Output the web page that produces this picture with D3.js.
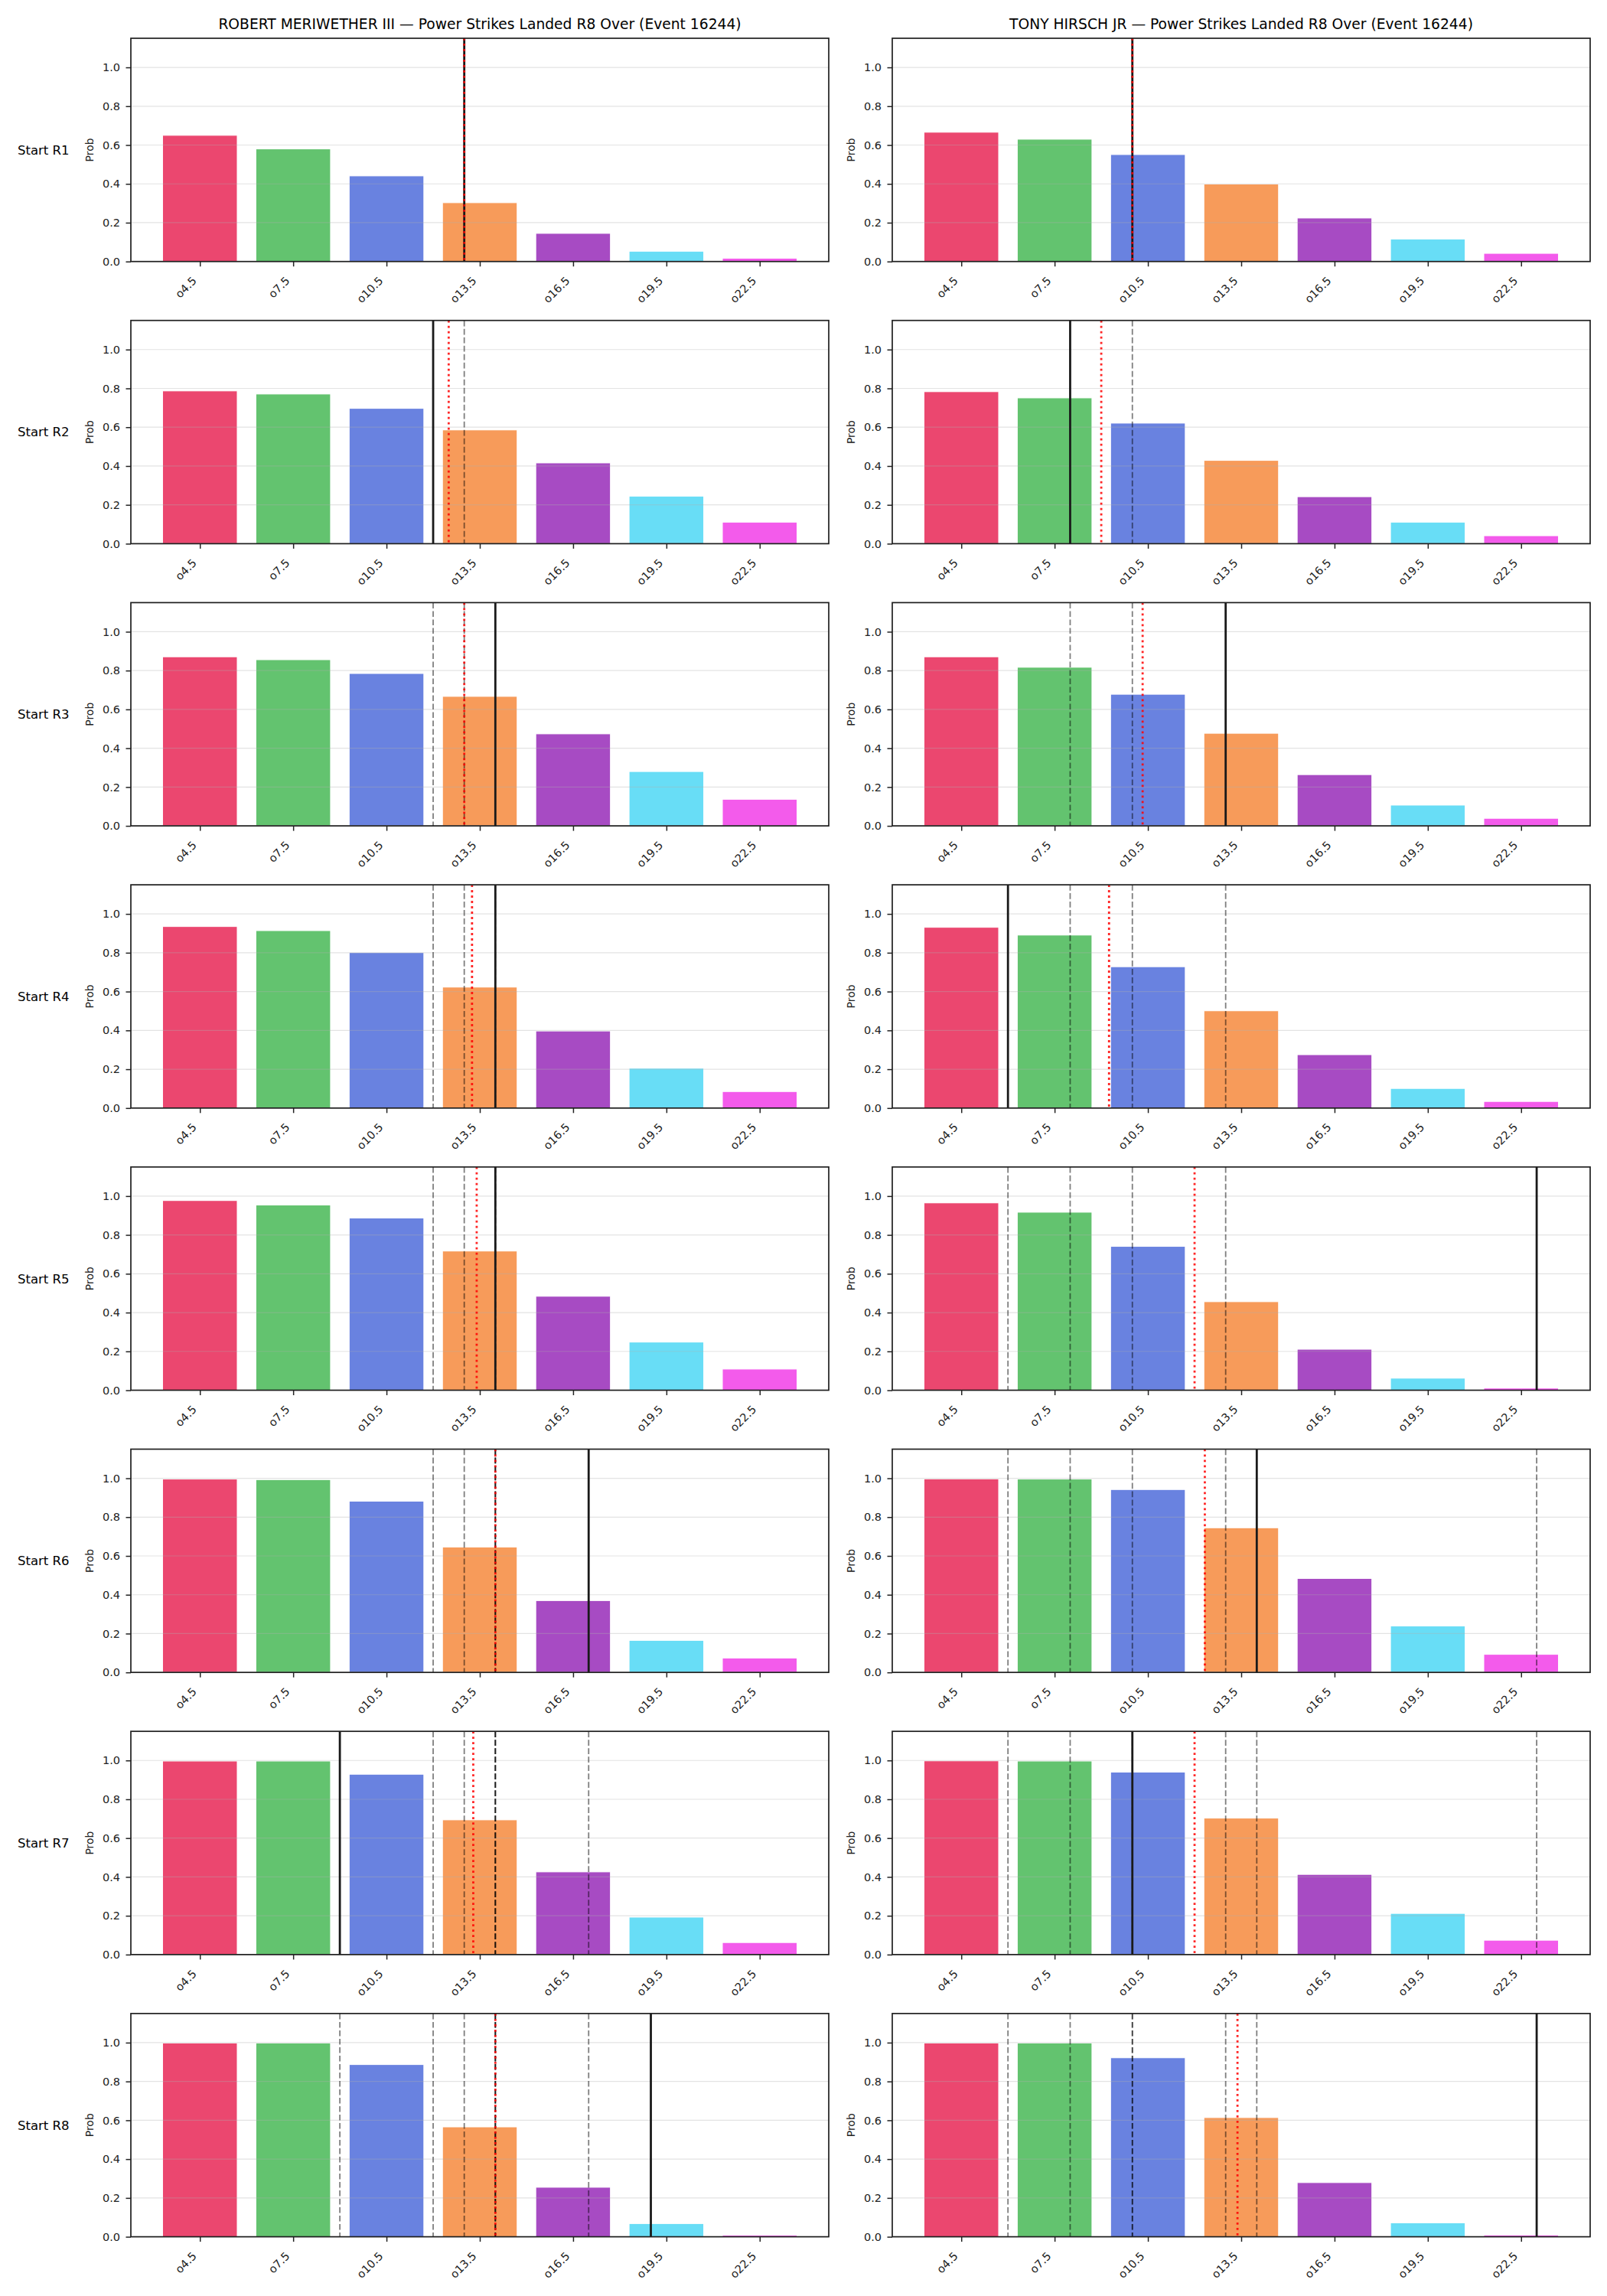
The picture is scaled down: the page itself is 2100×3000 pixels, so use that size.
<!DOCTYPE html>
<html>
<head>
<meta charset="utf-8">
<script src="https://cdn.jsdelivr.net/npm/d3@7"></script>
<style>
  body { margin: 0; background: #fff; }
  svg { display: block; }
  text { font-family: "DejaVu Sans", sans-serif; }
</style>
</head>
<body>
<svg id="chart" width="2100" height="3000"></svg>
<script>
// ---------------- data ----------------
const categories = ["o4.5", "o7.5", "o10.5", "o13.5", "o16.5", "o19.5", "o22.5"];
const thresholds = [4.5, 7.5, 10.5, 13.5, 16.5, 19.5, 22.5];
const barColors = ["#e6194b", "#3cb44b", "#4363d8", "#f58231", "#911eb4", "#42d4f4", "#f032e6"];
const rowLabels = ["Start R1", "Start R2", "Start R3", "Start R4", "Start R5", "Start R6", "Start R7", "Start R8"];
const yTicks = [0, 0.2, 0.4, 0.6, 0.8, 1.0];
const titles = [
  "ROBERT MERIWETHER III \u2014 Power Strikes Landed R8 Over (Event 16244)",
  "TONY HIRSCH JR \u2014 Power Strikes Landed R8 Over (Event 16244)"
];

// probability of over, per starting round (rows) and line (columns)
const meriwetherProbs = [
  [0.650, 0.580, 0.441, 0.303, 0.145, 0.053, 0.017],
  [0.787, 0.771, 0.697, 0.586, 0.416, 0.245, 0.111],
  [0.871, 0.856, 0.785, 0.667, 0.474, 0.280, 0.137],
  [0.935, 0.914, 0.801, 0.623, 0.397, 0.205, 0.085],
  [0.977, 0.954, 0.887, 0.717, 0.484, 0.248, 0.109],
  [0.996, 0.993, 0.882, 0.646, 0.370, 0.165, 0.074],
  [0.997, 0.997, 0.929, 0.694, 0.426, 0.193, 0.062],
  [0.998, 0.998, 0.887, 0.566, 0.255, 0.068, 0.008]
];
const hirschProbs = [
  [0.666, 0.630, 0.551, 0.399, 0.224, 0.116, 0.042],
  [0.783, 0.751, 0.621, 0.429, 0.242, 0.111, 0.041],
  [0.871, 0.817, 0.678, 0.477, 0.264, 0.107, 0.039],
  [0.931, 0.891, 0.728, 0.501, 0.275, 0.101, 0.034],
  [0.965, 0.917, 0.741, 0.456, 0.211, 0.062, 0.011],
  [0.997, 0.996, 0.942, 0.745, 0.484, 0.239, 0.093],
  [0.998, 0.997, 0.940, 0.703, 0.413, 0.212, 0.074],
  [0.998, 0.998, 0.922, 0.614, 0.279, 0.072, 0.009]
];

// projected totals at each start round (black solid line; earlier ones shown dashed)
const meriwetherProjection = [13, 12, 14, 14, 14, 17, 9, 19];
const hirschProjection = [10, 8, 13, 6, 23, 14, 10, 23];
// running mean (red dotted line)
const meriwetherMean = [13, 12.5, 13, 13.25, 13.4, 14, 13.29, 14];
const hirschMean = [10, 9, 10.33, 9.25, 12, 12.33, 12, 13.38];

// ---------------- layout ----------------
const colX = [171, 1166];
const panelW = 912;
const panelH = 291.7;
const rowTop0 = 50;
const rowPitch = 368.7;

const svg = d3.select("#chart");
svg.append("rect").attr("width", 2100).attr("height", 3000).attr("fill", "#fff");

const xIdx = d3.scaleLinear().domain([-0.74, 6.74]).range([0, panelW]);
const xVal = d3.scaleLinear().domain([thresholds[0], thresholds[6]]).range([xIdx(0), xIdx(6)]);
const y = d3.scaleLinear().domain([0, 1.15]).range([panelH, 0]);

const players = [
  { probs: meriwetherProbs, proj: meriwetherProjection, mean: meriwetherMean },
  { probs: hirschProbs, proj: hirschProjection, mean: hirschMean }
];

players.forEach((p, c) => {
  // title
  svg.append("text")
    .attr("x", colX[c] + panelW / 2)
    .attr("y", rowTop0 - 12.5)
    .attr("text-anchor", "middle")
    .attr("font-size", "18.7px")
    .attr("fill", "#000")
    .text(titles[c]);

  p.probs.forEach((vals, r) => {
    const top = rowTop0 + r * rowPitch;
    const g = svg.append("g").attr("transform", `translate(${colX[c]},${top})`);

    // bars
    g.selectAll("rect.bar").data(vals).enter().append("rect")
      .attr("class", "bar")
      .attr("x", (d, i) => xIdx(i - 0.4))
      .attr("width", xIdx(0.8) - xIdx(0))
      .attr("y", d => y(d))
      .attr("height", d => y(0) - y(d))
      .attr("fill", (d, i) => barColors[i])
      .attr("fill-opacity", 0.8)
      .attr("stroke", "#fff")
      .attr("stroke-width", 1);

    // grid
    g.selectAll("line.grid").data(yTicks).enter().append("line")
      .attr("x1", 0).attr("x2", panelW)
      .attr("y1", d => y(d)).attr("y2", d => y(d))
      .attr("stroke", "#b0b0b0").attr("stroke-opacity", 0.35).attr("stroke-width", 1.2);

    // previous projections (dashed gray)
    const prev = p.proj.slice(0, r);
    g.selectAll("line.prev").data(prev).enter().append("line")
      .attr("x1", d => xVal(d)).attr("x2", d => xVal(d))
      .attr("y1", 0).attr("y2", panelH)
      .attr("stroke", "#000").attr("stroke-opacity", 0.5)
      .attr("stroke-width", 1.8)
      .attr("stroke-dasharray", "7.7,3.3");

    // current projection (black solid)
    g.append("line")
      .attr("x1", xVal(p.proj[r])).attr("x2", xVal(p.proj[r]))
      .attr("y1", 0).attr("y2", panelH)
      .attr("stroke", "#1a1a1a").attr("stroke-width", 2.8);

    // running mean (red dotted)
    g.append("line")
      .attr("x1", xVal(p.mean[r])).attr("x2", xVal(p.mean[r]))
      .attr("y1", 0).attr("y2", panelH)
      .attr("stroke", "#ff0000").attr("stroke-opacity", 0.85)
      .attr("stroke-width", 2.8)
      .attr("stroke-dasharray", "2.8,4.2");

    // y axis
    const ya = g.append("g")
      .call(d3.axisLeft(y).tickValues(yTicks).tickFormat(d3.format(".1f")).tickSize(6.5).tickPadding(7.5).tickSizeOuter(0));
    ya.select(".domain").remove();
    ya.selectAll(".tick line").attr("stroke", "#222").attr("stroke-width", 1.5);
    ya.selectAll(".tick text").attr("font-size", "14.5px").attr("fill", "#222")
      .style("font-family", '"DejaVu Sans", sans-serif');

    // x axis
    const xa = g.append("g").attr("transform", `translate(0,${panelH})`)
      .call(d3.axisBottom(xIdx).tickValues(d3.range(categories.length)).tickFormat(i => categories[i]).tickSize(6.5).tickSizeOuter(0));
    xa.select(".domain").remove();
    xa.selectAll(".tick line").attr("stroke", "#222").attr("stroke-width", 1.5);
    xa.selectAll(".tick text")
      .attr("x", 0).attr("y", 0).attr("dy", 0)
      .attr("text-anchor", "end")
      .attr("transform", "translate(-4,26) rotate(-45)")
      .attr("font-size", "14.5px").attr("fill", "#222")
      .style("font-family", '"DejaVu Sans", sans-serif');

    // frame
    g.append("rect")
      .attr("x", 0).attr("y", 0).attr("width", panelW).attr("height", panelH)
      .attr("fill", "none").attr("stroke", "#1f1f1f").attr("stroke-width", 1.7);

    // y label
    g.append("text")
      .attr("transform", `translate(-49.5,${panelH / 2}) rotate(-90)`)
      .attr("text-anchor", "middle")
      .attr("font-size", "14px")
      .attr("fill", "#222")
      .text("Prob");

    // row label
    if (c === 0) {
      svg.append("text")
        .attr("x", 23)
        .attr("y", top + panelH / 2)
        .attr("dy", "0.36em")
        .attr("font-size", "16.5px")
        .attr("fill", "#000")
        .text(rowLabels[r]);
    }
  });
});
</script>
</body>
</html>
